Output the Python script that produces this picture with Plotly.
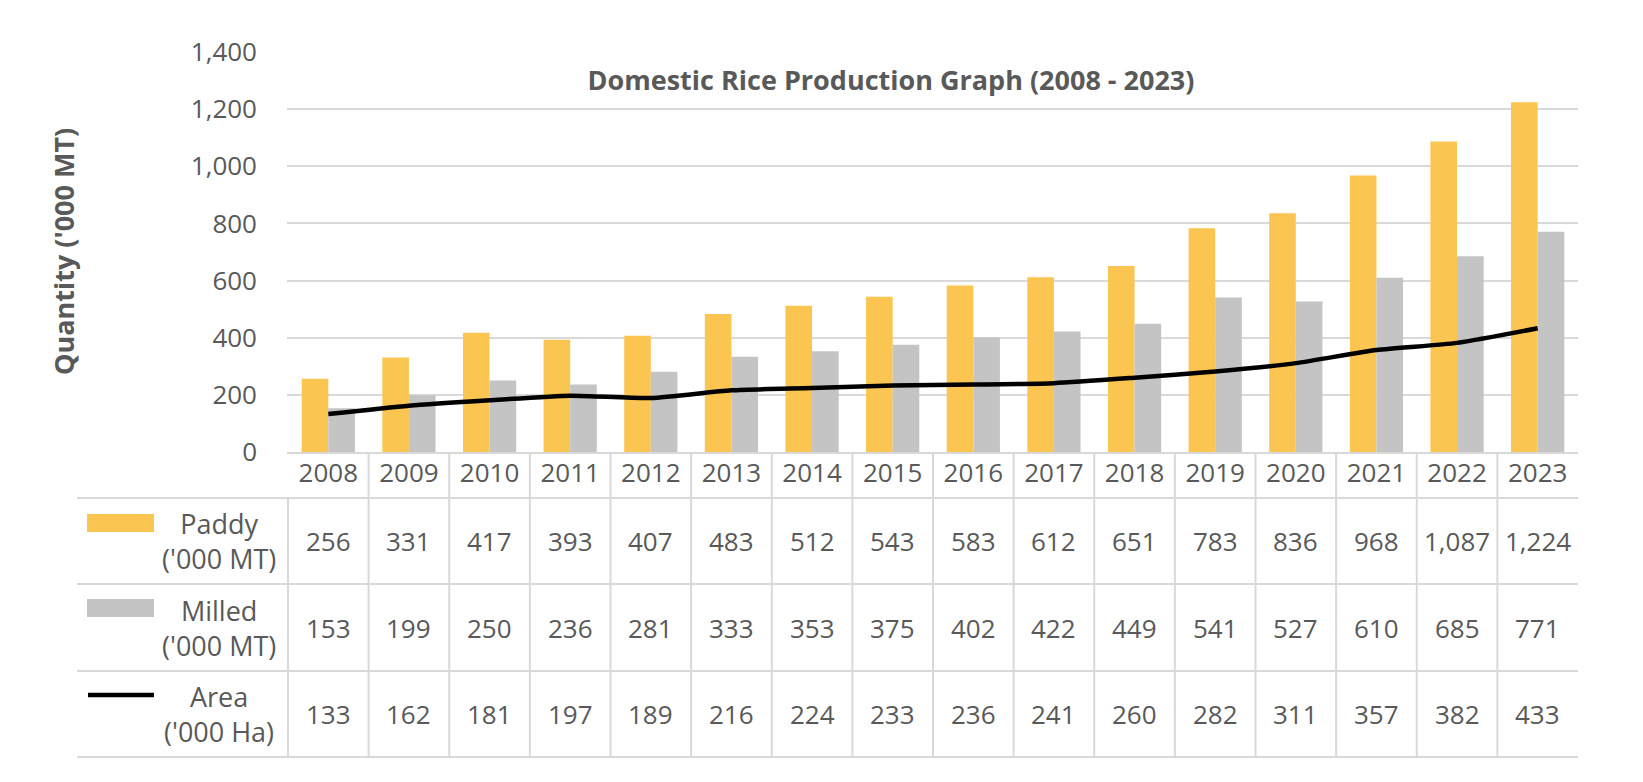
import plotly.graph_objects as go

years = [str(y) for y in range(2008, 2024)]
paddy = [256, 331, 417, 393, 407, 483, 512, 543, 583, 612, 651, 783, 836, 968, 1087, 1224]
milled = [153, 199, 250, 236, 281, 333, 353, 375, 402, 422, 449, 541, 527, 610, 685, 771]
area = [133, 162, 181, 197, 189, 216, 224, 233, 236, 241, 260, 282, 311, 357, 382, 433]

row_labels = ["Paddy<br>('000 MT)", "Milled<br>('000 MT)", "Area<br>('000 Ha)"]
row_values = [paddy, milled, area]

TXT = "#595959"
GRID = "#D9D9D9"
C_PADDY = "#FAC551"
C_MILLED = "#C4C4C4"
FONT = "Open Sans"

W, H = 1643, 782
L, R = 287, 1578
T, B = 52, 452


def xp(px):
    return (px - L) / (R - L)


def yp(py):
    return (B - py) / (B - T)


fig = go.Figure()
fig.add_trace(go.Bar(x=years, y=paddy, name="Paddy ('000 MT)", marker_color=C_PADDY,
                     marker_line_width=0))
fig.add_trace(go.Bar(x=years, y=milled, name="Milled ('000 MT)", marker_color=C_MILLED,
                     marker_line_width=0))
fig.add_trace(go.Scatter(x=years, y=area, name="Area ('000 Ha)", mode="lines",
                         line=dict(color="black", width=4.5, shape="spline", smoothing=0.6)))

shapes = []
annotations = []

# table horizontal lines
for py in [498, 584, 671, 757]:
    shapes.append(dict(type="line", xref="paper", yref="paper", x0=xp(77), x1=1,
                       y0=yp(py), y1=yp(py), line=dict(color=GRID, width=2)))
# table vertical lines
n = len(years)
for k in range(n):
    top = 452 if k > 0 else 498
    shapes.append(dict(type="line", xref="x", yref="paper", x0=k - 0.5, x1=k - 0.5,
                       y0=yp(top), y1=yp(757), line=dict(color=GRID, width=2)))

# legend keys
row_centers = [541, 627.5, 714]
key_y = [523, 608, 695]
shapes.append(dict(type="rect", xref="paper", yref="paper", x0=xp(87), x1=xp(154),
                   y0=yp(key_y[0] - 9), y1=yp(key_y[0] + 9), fillcolor=C_PADDY, line_width=0))
shapes.append(dict(type="rect", xref="paper", yref="paper", x0=xp(87), x1=xp(154),
                   y0=yp(key_y[1] - 9), y1=yp(key_y[1] + 9), fillcolor=C_MILLED, line_width=0))
shapes.append(dict(type="line", xref="paper", yref="paper", x0=xp(88), x1=xp(154),
                   y0=yp(key_y[2]), y1=yp(key_y[2]), line=dict(color="black", width=4.5)))

for lab, cy in zip(row_labels, row_centers):
    annotations.append(dict(text=lab, xref="paper", yref="paper", x=xp(219), y=yp(cy),
                            xanchor="center", yanchor="middle", showarrow=False, align="center",
                            font=dict(family=FONT, size=27, color=TXT)))

for vals, cy in zip(row_values, row_centers):
    for i, v in enumerate(vals):
        annotations.append(dict(text=f"{v:,}", xref="x", yref="paper", x=i, y=yp(cy),
                                xanchor="center", yanchor="middle", showarrow=False,
                                font=dict(family=FONT, size=26, color=TXT)))

# y-axis title
annotations.append(dict(text="<b>Quantity ('000 MT)</b>", xref="paper", yref="paper",
                        x=xp(63), y=yp(252), textangle=-90, xanchor="center", yanchor="middle",
                        showarrow=False, font=dict(family=FONT, size=27, color=TXT)))

fig.update_layout(
    width=W, height=H,
    margin=dict(l=L, r=W - R, t=T, b=H - B, pad=0),
    paper_bgcolor="white", plot_bgcolor="white",
    barmode="group", bargap=0.34, bargroupgap=0,
    showlegend=False,
    title=dict(text="<b>Domestic Rice Production Graph (2008 - 2023)</b>",
               x=891 / W, xanchor="center", y=1 - 81 / H, yanchor="middle",
               font=dict(family=FONT, size=27, color=TXT)),
    shapes=shapes, annotations=annotations,
    font=dict(family=FONT, color=TXT),
)
fig.update_xaxes(type="category", showgrid=False, showline=True, linecolor=GRID, linewidth=2,
                 ticks="", tickfont=dict(family=FONT, size=26, color=TXT), ticklabelstandoff=-3)
fig.update_yaxes(range=[0, 1400], dtick=200, tickformat=",", showgrid=True, gridcolor=GRID,
                 gridwidth=2, zeroline=False, showline=False, ticks="",
                 tickfont=dict(family=FONT, size=26, color=TXT), ticklabelstandoff=29)

fig.write_html("out.html")
